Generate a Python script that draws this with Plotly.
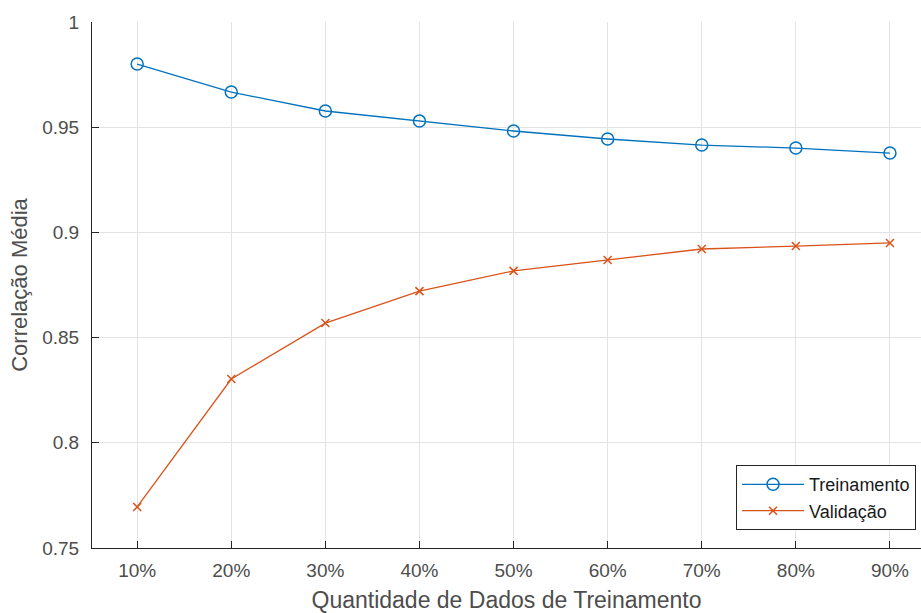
import plotly.graph_objects as go

# Training-set size and mean correlation for each split
fracoes = ["10%", "20%", "30%", "40%", "50%", "60%", "70%", "80%", "90%"]
treinamento = [0.980, 0.9667, 0.9577, 0.9529, 0.9482, 0.9444, 0.9415, 0.9401, 0.9377]
validacao = [0.7695, 0.8303, 0.8569, 0.8721, 0.8817, 0.8869, 0.8921, 0.8935, 0.8950]
yticks = [0.75, 0.8, 0.85, 0.9, 0.95, 1.0]
yticktext = ["0.75", "0.8", "0.85", "0.9", "0.95", "1"]

AZUL = "#0072BD"
LARANJA = "#D95319"
EIXO = "#262626"
TEXTO = "#4D4D4D"
FONTE = "Liberation Sans, Arial, sans-serif"

fig = go.Figure()
fig.add_trace(go.Scatter(
    x=fracoes, y=treinamento, name="Treinamento", mode="lines+markers",
    line=dict(color=AZUL, width=1.3),
    marker=dict(symbol="circle-open", size=12, color=AZUL, line=dict(width=1.5)),
))
fig.add_trace(go.Scatter(
    x=fracoes, y=validacao, name="Validação", mode="lines+markers",
    line=dict(color=LARANJA, width=1.3),
    marker=dict(symbol="x-thin-open", size=8, color=LARANJA, line=dict(width=1.5, color=LARANJA)),
))

fig.update_layout(
    width=921, height=613,
    margin=dict(l=92, r=0, t=22, b=65),
    paper_bgcolor="white", plot_bgcolor="white",
    font=dict(family=FONTE, size=19, color=TEXTO),
    showlegend=True,
    legend=dict(
        x=0.994, y=0.034, xanchor="right", yanchor="bottom",
        bgcolor="white", bordercolor=EIXO, borderwidth=1,
        font=dict(size=18, color="#1A1A1A"), itemwidth=62,
        tracegroupgap=0,
    ),
)

fig.update_xaxes(
    type="category", range=[-0.48, 8.33],
    showline=True, linecolor=EIXO, linewidth=1,
    ticks="inside", ticklen=7, tickcolor=EIXO,
    showgrid=True, gridcolor="#E3E3E3", gridwidth=1,
    tickfont=dict(size=19, color=TEXTO), ticklabelstandoff=5,
    title=dict(text="Quantidade de Dados de Treinamento", font=dict(size=23, color=TEXTO), standoff=15),
    zeroline=False,
)
fig.update_yaxes(
    range=[0.75, 1.0], tickvals=yticks, ticktext=yticktext,
    showline=True, linecolor=EIXO, linewidth=1,
    ticks="inside", ticklen=7, tickcolor=EIXO,
    showgrid=True, gridcolor="#E3E3E3", gridwidth=1,
    tickfont=dict(size=19, color=TEXTO), ticklabelstandoff=8,
    title=dict(text="Correlação Média", font=dict(size=22, color=TEXTO), standoff=8),
    zeroline=False,
)

fig.write_html("out.html")
